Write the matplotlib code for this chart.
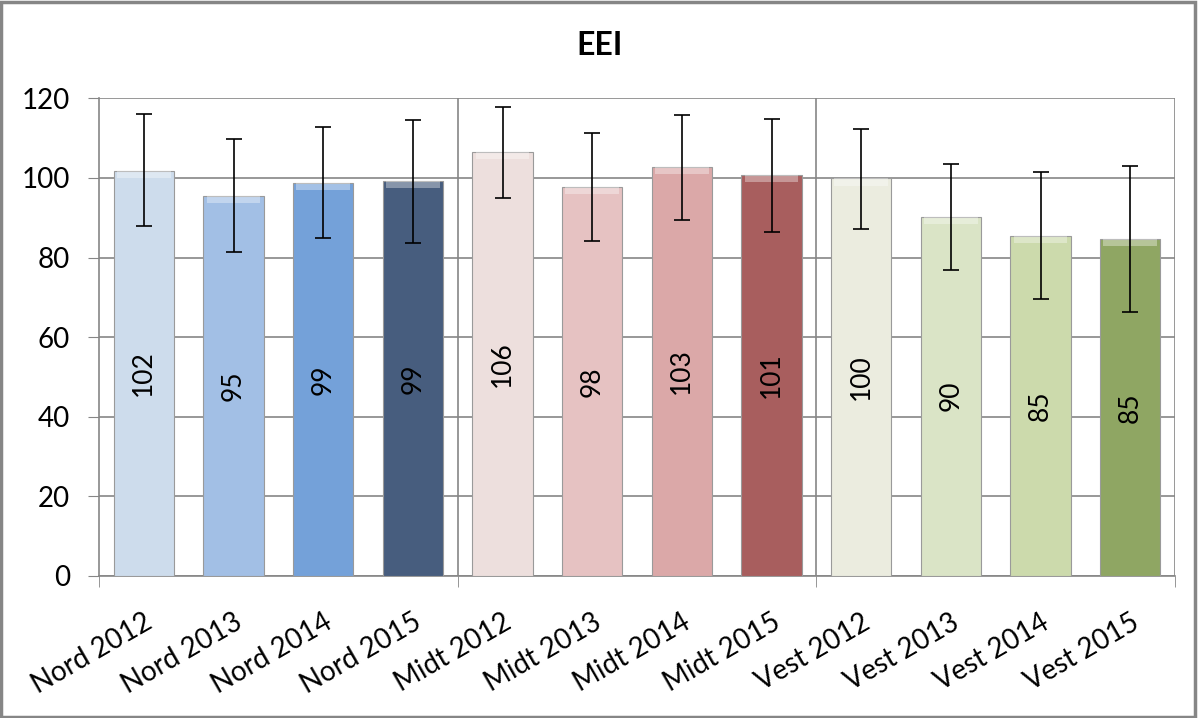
import matplotlib.pyplot as plt
import numpy as np
from matplotlib.patches import Rectangle

# data
categories = ['Nord 2012', 'Nord 2013', 'Nord 2014', 'Nord 2015',
              'Midt 2012', 'Midt 2013', 'Midt 2014', 'Midt 2015',
              'Vest 2012', 'Vest 2013', 'Vest 2014', 'Vest 2015']
values = [101.8, 95.4, 98.8, 99.3, 106.6, 97.8, 102.8, 100.8, 99.9, 90.3, 85.4, 84.7]
labels = ['102', '95', '99', '99', '106', '98', '103', '101', '100', '90', '85', '85']
err_high = [116.0, 109.9, 112.9, 114.6, 117.9, 111.4, 115.9, 114.9, 112.4, 103.6, 101.6, 103.1]
err_low = [88.0, 81.4, 84.9, 83.7, 95.0, 84.2, 89.5, 86.5, 87.2, 76.9, 69.6, 66.3]
colors = ['#cddcec', '#a2bfe5', '#74a1d9', '#475d7e',
          '#eddfdd', '#e6c2c2', '#dba8a8', '#a85e5e',
          '#ebecdf', '#dae4c6', '#ccdaac', '#8fa663']

plt.rcParams['font.family'] = ['Lato', 'DejaVu Sans']

fig = plt.figure(figsize=(11.99, 7.18), dpi=100)
ax = fig.add_axes([0.0826, 0.198, 0.8974, 0.665])

x = np.arange(len(categories))
vals = np.array(values)
yerr = [vals - np.array(err_low), np.array(err_high) - vals]

bars = ax.bar(x, vals, width=0.67, color=colors, edgecolor='#9a9a9a', linewidth=0.8, zorder=3)
# light band at the top of each bar (bevel look)
ax.bar(x, 1.8, bottom=vals - 1.8, width=0.6, color='white', alpha=0.35, linewidth=0, zorder=3)
ax.errorbar(x, vals, yerr=yerr, fmt='none', ecolor='black', elinewidth=1.2,
            capsize=6, capthick=1.2, zorder=4)

for xi, v, lab in zip(x, vals, labels):
    ax.text(xi, v / 2, lab, rotation=90, ha='center', va='center',
            fontsize=19, color='black', zorder=5)

ax.set_xlim(-0.5, 11.5)
ax.set_ylim(0, 120)
ax.set_yticks(np.arange(0, 121, 20))
ax.tick_params(axis='y', labelsize=20, length=8, color='#868686', pad=13)
ax.yaxis.grid(True, color='#868686', linewidth=1.2, zorder=0)

ax.set_xticks(x)
ax.set_xticklabels(categories, rotation=30, ha='right', rotation_mode='anchor', fontsize=20)
ax.tick_params(axis='x', length=0, pad=24)
ax.set_xticks([-0.5, 3.5, 7.5, 11.5], minor=True)
ax.tick_params(axis='x', which='minor', length=8, color='#868686')
for xv in [3.5, 7.5, 11.5]:
    ax.axvline(xv, color='#868686', linewidth=1.2, zorder=1)

for s in ['top', 'right']:
    ax.spines[s].set_visible(False)
for s in ['left', 'bottom']:
    ax.spines[s].set_color('#868686')
    ax.spines[s].set_linewidth(1.2)

fig.text(0.5, 0.937, 'EEI', ha='center', va='center', fontsize=23, fontweight='bold')

# outer chart border
fig.patches.append(Rectangle((0.001, 0.002), 0.996, 0.995, transform=fig.transFigure,
                             fill=False, edgecolor='#868686', linewidth=2.5))

fig.savefig('out.png', dpi=100)
